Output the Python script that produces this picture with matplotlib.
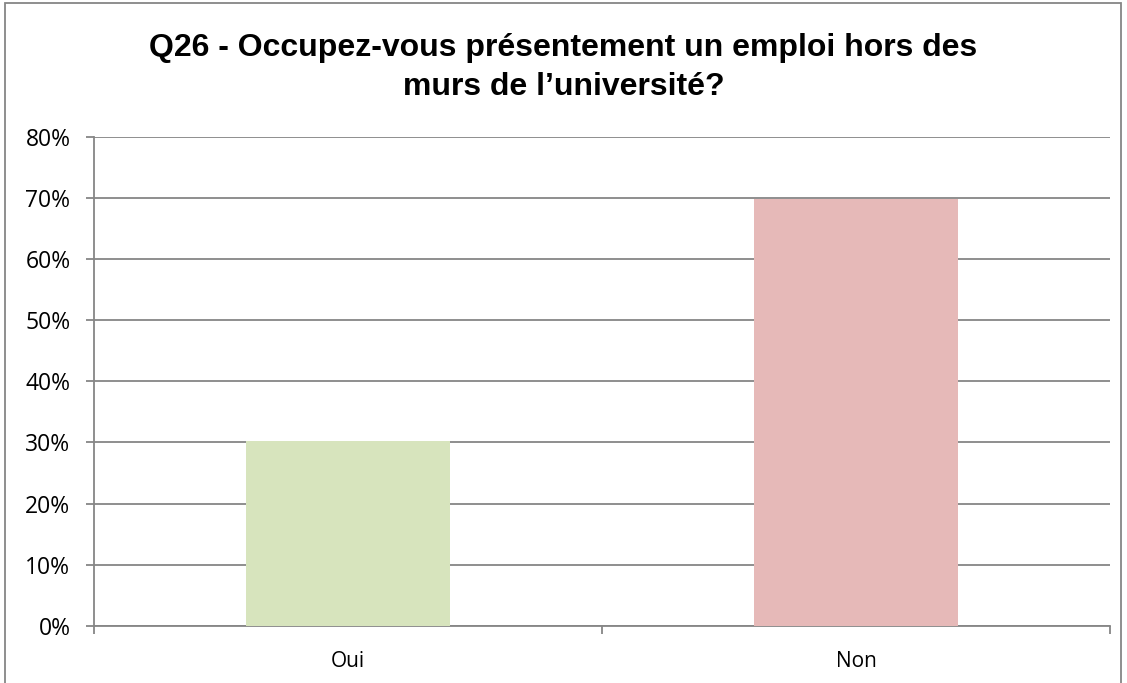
import matplotlib.pyplot as plt
from matplotlib.patches import Rectangle

categories = ['Oui', 'Non']
values = [30.2, 69.8]
colors = ['#D7E4BD', '#E6B9B8']
yticks = [0, 10, 20, 30, 40, 50, 60, 70, 80]
title = 'Q26 - Occupez-vous présentement un emploi hors des\nmurs de l\u2019université?'

fig = plt.figure(figsize=(11.27, 6.83), dpi=100)
ax = fig.add_axes([94/1127, 1-626/683, (1110-94)/1127, (626-136.5)/683])

x = range(len(categories))
ax.bar(x, values, width=0.4, color=colors, zorder=3)

ax.set_xlim(-0.5, 1.5)
ax.set_ylim(0, 80)
ax.set_yticks(yticks)
ax.set_yticklabels([f'{v}%' for v in yticks], family='Open Sans', fontsize=16.5)
ax.set_xticks([-0.5, 0.5, 1.5])
ax.set_xticklabels([])
ax.set_xticks(list(x), minor=True)
ax.set_xticklabels(categories, minor=True, family='Open Sans', fontsize=15)

grey = '#868686'
ax.yaxis.grid(True, color=grey, linewidth=1.3, zorder=0)
for s in ['top', 'right']:
    ax.spines[s].set_visible(False)
for s in ['left', 'bottom']:
    ax.spines[s].set_color(grey)
    ax.spines[s].set_linewidth(1.3)
ax.tick_params(axis='y', which='major', length=6, width=1.3, color=grey, pad=11)
ax.tick_params(axis='x', which='major', length=6, width=1.3, color=grey)
ax.tick_params(axis='x', which='minor', length=0, pad=18)

fig.text(0.5, 1-67.5/683, title, ha='center', va='center', fontsize=23,
         fontweight='bold', family='Liberation Sans', linespacing=1.35)

fig.patches.append(Rectangle((5/1127, -0.05), (1121-5)/1127, 1.05-3/683,
                             transform=fig.transFigure, fill=False,
                             edgecolor=grey, linewidth=1.3))

fig.savefig('out.png', dpi=100)
